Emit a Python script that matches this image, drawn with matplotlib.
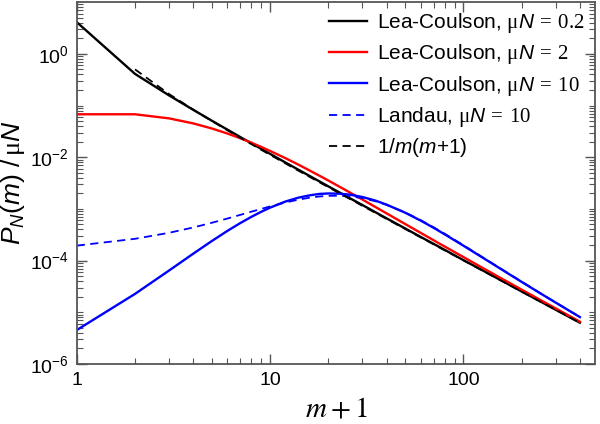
import numpy as np
import matplotlib
matplotlib.use("Agg")
import matplotlib.pyplot as plt
from matplotlib.ticker import LogLocator, NullFormatter, FixedLocator

plt.rcParams['font.family'] = ['Liberation Sans', 'DejaVu Sans']
plt.rcParams['mathtext.fontset'] = 'custom'
plt.rcParams['mathtext.rm'] = 'Liberation Serif'
plt.rcParams['mathtext.it'] = 'Liberation Sans:italic'
plt.rcParams['mathtext.sf'] = 'Liberation Sans'

# x = m + 1
x = [1, 2, 3, 4, 5, 6, 7, 8, 9, 10, 12, 14, 16, 18, 20, 23, 26, 30, 35, 40,
     50, 60, 70, 80, 100, 120, 150, 200, 250, 300, 350, 400]

lc_02 = [4.09, 0.409, 0.157, 0.0826, 0.0507, 0.0343, 0.0246, 0.0186, 0.0145, 0.0116,
         0.0079, 0.00573, 0.00434, 0.0034, 0.00273, 0.00205, 0.00159, 0.00119, 0.000865,
         0.000658, 0.000418, 0.000288, 0.000211, 0.000161, 0.000102, 7.09e-5, 4.52e-5,
         2.53e-5, 1.62e-5, 1.12e-5, 8.23e-6, 6.3e-6]

lc_2 = [0.0677, 0.0677, 0.0564, 0.0451, 0.0359, 0.0288, 0.0233, 0.0191, 0.0158, 0.0132,
        0.00958, 0.00718, 0.00554, 0.00438, 0.00354, 0.00265, 0.00205, 0.00152, 0.00109,
        0.000821, 0.000509, 0.000345, 0.000248, 0.000187, 0.000117, 7.95e-5, 4.98e-5,
        2.74e-5, 1.73e-5, 1.19e-5, 8.66e-6, 6.59e-6]

lc_10 = [4.54e-6, 2.27e-5, 6.43e-5, 0.000136, 0.00024, 0.000374, 0.000531, 0.000703,
         0.000881, 0.00106, 0.00139, 0.00165, 0.00183, 0.00195, 0.00199, 0.00197, 0.00188,
         0.0017, 0.00145, 0.00121, 0.000843, 0.000595, 0.000432, 0.000322, 0.000194,
         0.000127, 7.55e-5, 3.87e-5, 2.32e-5, 1.54e-5, 1.09e-5, 8.09e-6]

landau_10 = [0.000195, 0.000264, 0.000345, 0.000437, 0.00054, 0.00065, 0.000766, 0.000884,
             0.001, 0.00112, 0.00133, 0.00151, 0.00165, 0.00174, 0.00179, 0.0018, 0.00175,
             0.00162, 0.00141, 0.0012, 0.000853, 0.000607, 0.000442, 0.00033, 0.000198,
             0.000129, 7.65e-5, 3.91e-5, 2.34e-5, 1.54e-5, 1.09e-5, 8.13e-6]

x_ref = x[1:]
ref = [0.5, 0.1667, 0.0833, 0.05, 0.0333, 0.0238, 0.01786, 0.01389, 0.01111, 0.00758,
       0.00549, 0.004167, 0.003268, 0.002632, 0.001976, 0.001538, 0.001149, 0.00084,
       0.000641, 0.000408, 0.000282, 0.000207, 0.000158, 0.000101, 7.0e-5, 4.47e-5,
       2.51e-5, 1.606e-5, 1.115e-5, 8.19e-6, 6.27e-6]

fig = plt.figure(figsize=(6, 4.24), dpi=100)
ax = fig.add_axes([0.128, 0.1415, 0.864, 0.8535])

lw = 1.7
ax.plot(x, lc_02, color='black', lw=lw, label=r'Lea-Coulson, $\mathrm{\mu}N\mathrm{\,=\,0.2}$')
ax.plot(x, lc_2, color='#ff0000', lw=lw, label=r'Lea-Coulson, $\mathrm{\mu}N\mathrm{\,=\,2}$')
ax.plot(x, lc_10, color='#0000ff', lw=lw, label=r'Lea-Coulson, $\mathrm{\mu}N\mathrm{\,=\,10}$')
ax.plot(x, landau_10, color='#0000ff', lw=1.3, ls=(0, (4.5, 3)), label=r'Landau, $\mathrm{\mu}N\mathrm{\,=\,10}$')
ax.plot(x_ref, ref, color='black', lw=1.3, ls=(0, (4.5, 3)), label=r'1/$m$($m$+1)')

ax.set_xscale('log')
ax.set_yscale('log')
ax.set_xlim(1, 480)
ax.set_ylim(1e-6, 10)

ax.xaxis.set_major_locator(FixedLocator([1, 10, 100]))
ax.set_xticklabels(['1', '10', '100'])
ax.xaxis.set_minor_locator(LogLocator(base=10, subs=np.arange(2, 10)))
ax.xaxis.set_minor_formatter(NullFormatter())

ax.yaxis.set_major_locator(FixedLocator([1e-6, 1e-4, 1e-2, 1e0]))
ax.set_yticklabels([r'$\mathsf{10^{-6}}$', r'$\mathsf{10^{-4}}$', r'$\mathsf{10^{-2}}$', r'$\mathsf{10^{0}}$'])
yminor = []
for e in range(-6, 1):
    for s in range(1, 10):
        v = s * 10.0 ** e
        if s == 1 and e % 2 == 0:
            continue
        yminor.append(v)
ax.yaxis.set_minor_locator(FixedLocator(yminor))
ax.yaxis.set_minor_formatter(NullFormatter())

spine_c = '#555555'
for sp in ax.spines.values():
    sp.set_color(spine_c)
    sp.set_linewidth(1.3)
ax.tick_params(which='both', direction='in', top=True, right=True, color=spine_c, labelsize=14, labelcolor='black')
ax.tick_params(which='major', length=7, width=1.0, pad=6)
ax.tick_params(which='minor', length=4, width=0.8)

ax.set_xlabel(r'$m + 1$', fontsize=21, math_fontfamily='stix', labelpad=4)
ax.set_ylabel(r'$P_N\mathsf{(}m\mathsf{)}\ \mathsf{/}\,\mathrm{\mu}N$', fontsize=19, labelpad=2)

leg = ax.legend(loc='upper right', frameon=False, fontsize=15, handlelength=1.8,
                handletextpad=0.5, labelspacing=0.35, borderaxespad=0.0, borderpad=0.0,
                bbox_to_anchor=(0.98, 0.975))

fig.savefig('out.png')
